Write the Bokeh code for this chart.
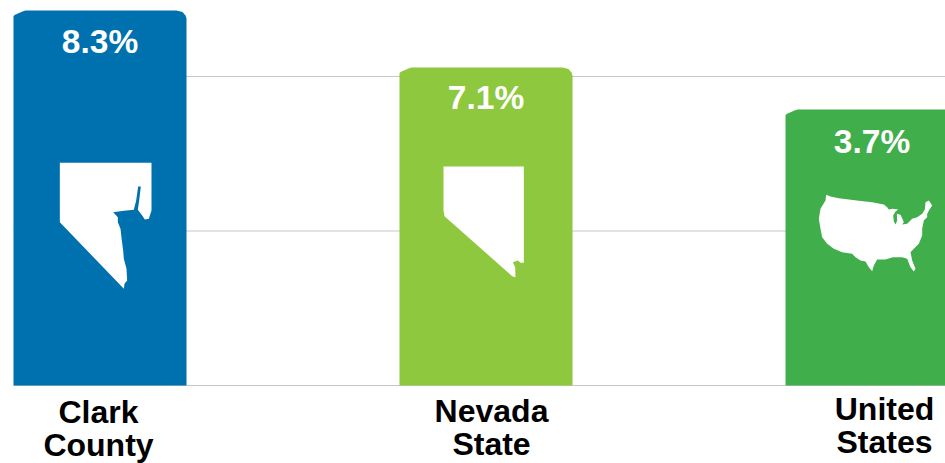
from bokeh.plotting import figure
from bokeh.models import Range1d
from bokeh.core.properties import value
from bokeh.embed import file_html
from bokeh.resources import INLINE

# --- data ---
categories = ["Clark\nCounty", "Nevada\nState", "United\nStates"]
rate_labels = ["8.3%", "7.1%", "3.7%"]
# drawn bar heights (the source's bars are not to scale with the labels)
bar_heights = [8.3, 7.04, 6.11]
grid_values = [0.0, 3.42, 6.84]
bar_colors = ["#0071AF", "#8EC83F", "#41AE4C"]

# icon outlines: traced at 3x, with the corner of the traced area in picture pixels
clark_origin = (40, 150)
clark_icon = [(58,37),(333,37),(333,180),(325,205),(313,207),(305,195),(292,178),(296,150),(301,108),(293,108),
              (287,150),(280,178),(250,181),(218,185),(232,200),(232,215),(240,235),(243,262),(248,300),(250,325),
              (258,355),(260,390),(252,400),(250,415),(58,215)]
nevada_origin = (430, 155)
nevada_icon = [(39,33),(280,33),(280,322),(270,322),(262,315),(247,320),(254,335),(255,365),(245,362),(42,182),(39,165)]
us_origin = (805, 185)
us_icon = [(62,28),(75,33),(100,38),(130,42),(160,46),(200,50),(235,57),(245,65),(250,72),(262,70),(278,72),(270,78),
           (263,90),(265,108),(270,117),(275,105),(274,85),(285,88),(290,98),(295,110),(290,117),(305,115),(320,100),
           (335,95),(350,85),(358,72),(360,50),(370,45),(380,60),(372,72),(365,85),(365,95),(355,105),(350,130),
           (350,150),(340,175),(325,190),(315,200),(320,225),(330,250),(325,258),(315,245),(305,220),(290,215),
           (275,215),(262,215),(240,222),(215,222),(205,240),(200,257),(190,245),(180,228),(165,225),(150,215),
           (140,205),(110,200),(85,190),(65,175),(50,155),(45,130),(40,100),(45,70),(60,45)]
icons = [(clark_origin, clark_icon), (nevada_origin, nevada_icon), (us_origin, us_icon)]

W, H = 945, 463
BASE_Y = 385          # picture row of the baseline
PX_X = 386.0          # pixels per category step
PX_Y = 45.18          # pixels per unit of height
CENTER0 = 99.5
BAR_PX = 173

def dx(sx):
    return (sx - CENTER0) / PX_X

def dy(sy):
    return (BASE_Y - sy) / PX_Y

p = figure(width=W, height=H, output_backend="svg", toolbar_location=None, min_border=0,
           x_range=Range1d(dx(0), dx(W)), y_range=Range1d(dy(H), dy(0)),
           outline_line_color=None, background_fill_color="white", border_fill_color="white")
p.axis.visible = False
p.grid.visible = False

# gridlines + baseline
xs_left = dx(CENTER0 - BAR_PX / 2)
p.segment(x0=[xs_left] * len(grid_values), x1=[dx(W)] * len(grid_values),
          y0=grid_values, y1=grid_values, line_color="#C6C6C6", line_width=1)

# bars with chamfered, slightly rounded top corners
half = BAR_PX / 2 / PX_X
ux, uy = 1 / PX_X, 1 / PX_Y
bar_xs, bar_ys = [], []
for i, h in enumerate(bar_heights):
    l, r = i - half, i + half
    bar_xs.append([l, l, l + 1 * ux, l + 9 * ux, l + 12 * ux, r - 10 * ux, r - 4 * ux, r - 1 * ux, r, r])
    bar_ys.append([0, h - 6 * uy, h - 4.5 * uy, h - 1 * uy, h, h, h - 1.5 * uy, h - 5 * uy, h - 8 * uy, 0])
p.patches(bar_xs, bar_ys, fill_color=bar_colors, line_color=None)

# map icons
p.patches([[dx(o[0] + a / 3) for a, _ in ic] for o, ic in icons],
          [[dy(o[1] + b / 3) for _, b in ic] for o, ic in icons],
          fill_color="white", line_color=None)

# value labels inside bars
value_offset = [31, 30, 32]
p.text(x=list(range(3)), y=[h - o / PX_Y for h, o in zip(bar_heights, value_offset)], text=rate_labels,
       text_color="white", text_font=value("Liberation Sans"), text_font_style="bold",
       text_font_size="33.5px", text_align="center", text_baseline="middle")

# category labels, two lines each
label_x = [98, 491, 884]
label_row = [411, 410, 408]
for cat, lx, row in zip(categories, label_x, label_row):
    for k, line in enumerate(cat.split("\n")):
        p.text(x=[dx(lx)], y=[dy(row + k * 33)], text=[line], text_color="black",
               text_font=value("Liberation Sans"), text_font_style="bold", text_font_size="32px",
               text_align="center", text_baseline="middle")

open("out.html", "w").write(file_html(p, INLINE))
